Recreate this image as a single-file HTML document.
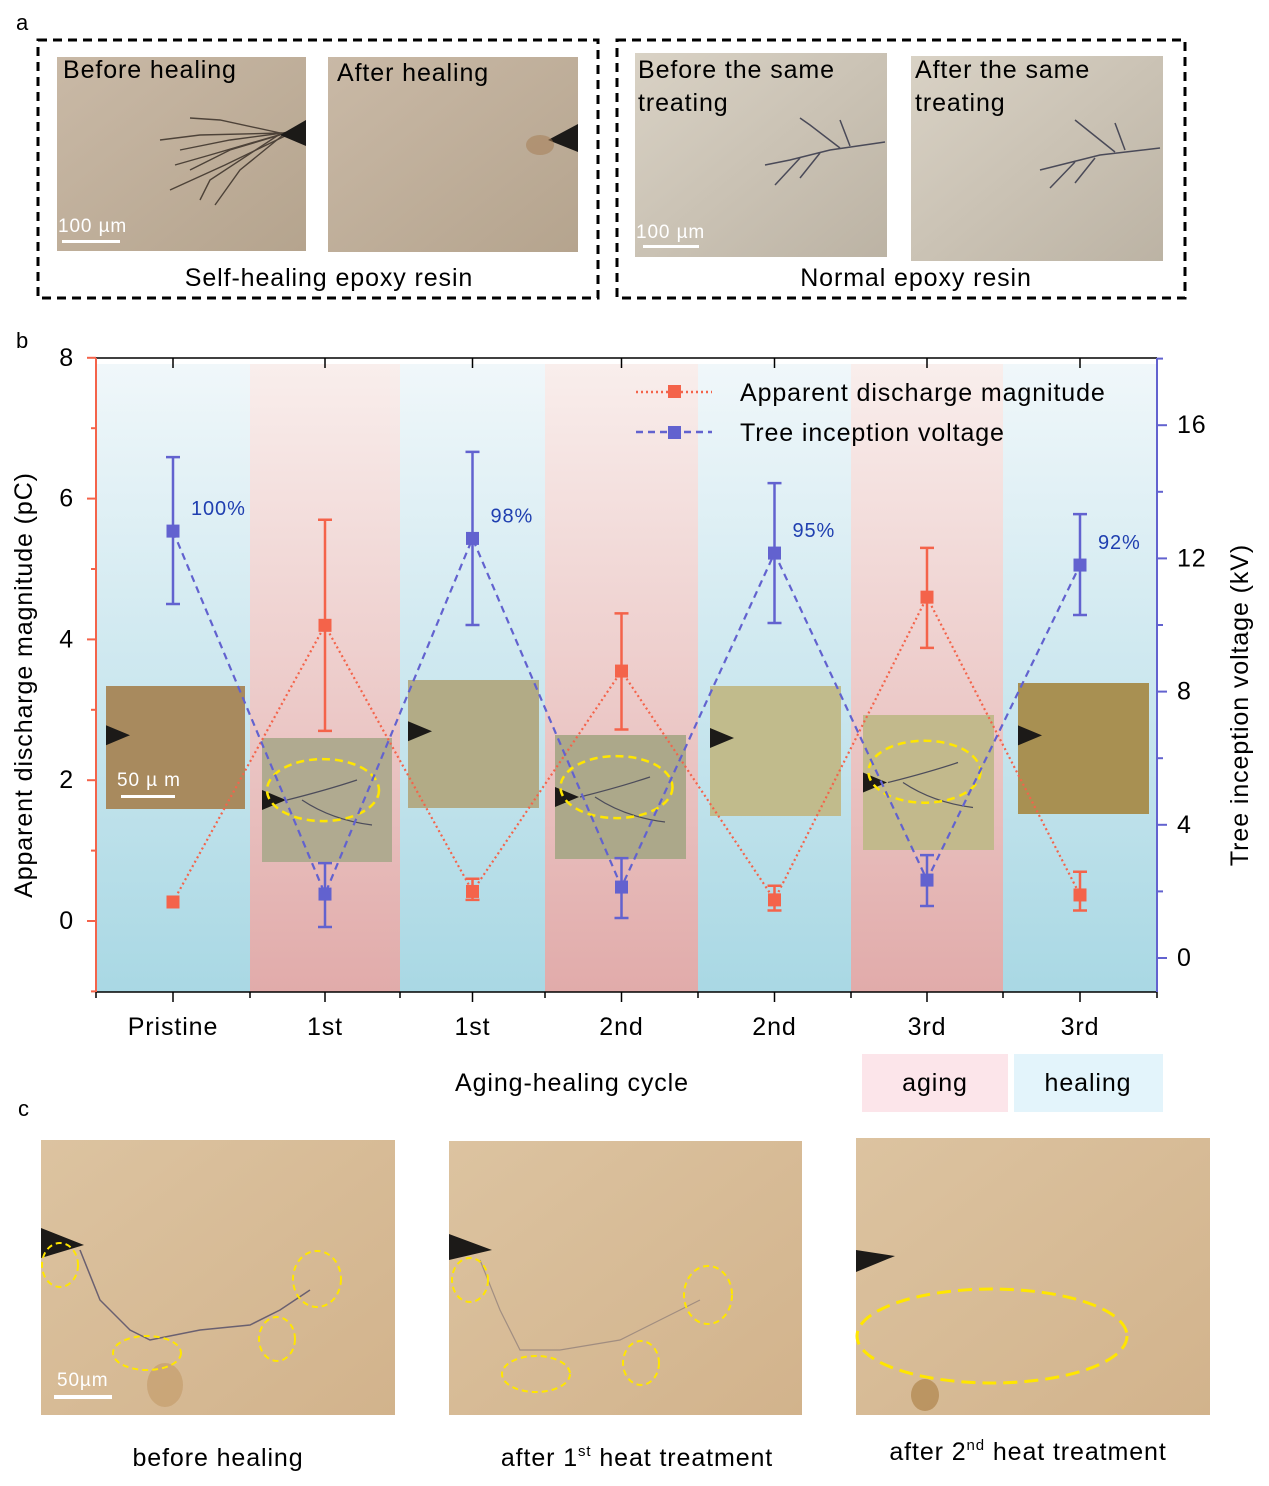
<!DOCTYPE html>
<html><head><meta charset="utf-8"><style>
html,body{margin:0;padding:0;background:#fff}
svg{display:block;font-family:"Liberation Sans",Arial,sans-serif}
svg text{letter-spacing:0.9px}
</style></head><body>
<svg id="fig" width="1269" height="1486" viewBox="0 0 1269 1486" xmlns="http://www.w3.org/2000/svg">
<defs>
<linearGradient id="gBlue" x1="0" y1="0" x2="0" y2="1"><stop offset="0" stop-color="#f0f7fa"/><stop offset="1" stop-color="#a9d8e4"/></linearGradient>
<linearGradient id="gPink" x1="0" y1="0" x2="0" y2="1"><stop offset="0" stop-color="#f9eeec"/><stop offset="1" stop-color="#e1abaa"/></linearGradient>
<linearGradient id="gPhotoA" x1="0" y1="0" x2="1" y2="1"><stop offset="0" stop-color="#c9b9a6"/><stop offset="1" stop-color="#b5a48e"/></linearGradient>
<linearGradient id="gPhotoB" x1="0" y1="0" x2="1" y2="1"><stop offset="0" stop-color="#d9d2c5"/><stop offset="1" stop-color="#bcb3a4"/></linearGradient>
<linearGradient id="gPhotoC" x1="0" y1="0" x2="1" y2="1"><stop offset="0" stop-color="#dcc3a0"/><stop offset="1" stop-color="#d2b38c"/></linearGradient>
</defs>

<!-- Panel a -->
<text x="16" y="30" font-size="22">a</text>
<rect x="38" y="40" width="560" height="258" fill="none" stroke="#000" stroke-width="3" stroke-dasharray="9,6"/>
<rect x="617" y="40" width="568" height="258" fill="none" stroke="#000" stroke-width="3" stroke-dasharray="9,6"/>
<g>
<rect x="57" y="57" width="249" height="194" fill="url(#gPhotoA)"/>
<g stroke="#3a3028" stroke-width="1.4" fill="none" opacity="0.85">
<path d="M290 132 L230 140 L180 150"/><path d="M285 134 L220 120 L190 118"/><path d="M285 136 L225 165 L170 190"/><path d="M280 134 L210 180 L200 200"/><path d="M282 133 L200 135 L160 140"/><path d="M283 135 L240 170 L215 205"/><path d="M280 135 L230 150 L190 170"/><path d="M282 134 L210 155 L175 165"/></g>
<polygon points="306,120 306,146 280,135" fill="#1c1a18"/>
<text x="63" y="78" font-size="25">Before healing</text>
<text x="58" y="232" font-size="19" fill="#fff">100 µm</text>
<rect x="62" y="240" width="58" height="3" fill="#fff"/>
</g>
<g>
<rect x="328" y="57" width="250" height="195" fill="url(#gPhotoA)"/>
<polygon points="578,124 578,152 548,140" fill="#1c1a18"/>
<ellipse cx="540" cy="145" rx="14" ry="10" fill="#a47a50" opacity="0.5"/>
<text x="337" y="81" font-size="25">After healing</text>
</g>
<text x="329" y="286" font-size="25" text-anchor="middle">Self-healing epoxy resin</text>
<g>
<rect x="635" y="53" width="252" height="204" fill="url(#gPhotoB)"/>
<g stroke="#4a4a58" stroke-width="1.5" fill="none"><path d="M885 142 L830 150 L790 160 L765 165"/><path d="M840 148 L810 125 L800 118"/><path d="M820 153 L800 178"/><path d="M850 146 L840 120"/><path d="M800 158 L775 185"/></g>
<text x="638" y="78" font-size="25">Before the same</text>
<text x="638" y="111" font-size="25">treating</text>
<text x="636" y="238" font-size="19" fill="#fff">100 µm</text>
<rect x="643" y="245" width="56" height="3" fill="#fff"/>
</g>
<g>
<rect x="911" y="56" width="252" height="205" fill="url(#gPhotoB)"/>
<g stroke="#4a4a58" stroke-width="1.5" fill="none"><path d="M1160 148 L1100 155 L1060 165 L1040 170"/><path d="M1115 152 L1085 128 L1075 120"/><path d="M1095 158 L1075 183"/><path d="M1125 150 L1115 123"/><path d="M1075 162 L1050 188"/></g>
<text x="915" y="78" font-size="25">After the same</text>
<text x="915" y="111" font-size="25">treating</text>
</g>
<text x="916" y="286" font-size="25" text-anchor="middle">Normal epoxy resin</text>

<!-- Panel b -->
<text x="16" y="348" font-size="22">b</text>
<g id="bg"></g>
<g id="insets"></g>
<g id="plot"></g>
<g id="axes"></g>

<g>
<g>
<line x1="636" y1="392" x2="712" y2="392" stroke="#f4634a" stroke-width="2.5" stroke-dasharray="2,3"/>
<rect x="668" y="385" width="13" height="13" fill="#f4634a"/>
<text x="740" y="401" font-size="25">Apparent discharge magnitude</text></g>
<g>
<line x1="636" y1="432" x2="712" y2="432" stroke="#6262cf" stroke-width="2.5" stroke-dasharray="7,5"/>
<rect x="668" y="426" width="13" height="13" fill="#6262cf"/>
<text x="740" y="441" font-size="25">Tree inception voltage</text></g>
</g>

<text x="572" y="1091" font-size="25" text-anchor="middle">Aging-healing cycle</text>
<text transform="translate(32,685) rotate(-90)" font-size="25" text-anchor="middle">Apparent discharge magnitude (pC)</text>
<text transform="translate(1248,705) rotate(-90)" font-size="25" text-anchor="middle">Tree inception voltage (kV)</text>
<g><rect x="862" y="1054" width="146" height="58" fill="#fce5ea"/><text x="935" y="1091" font-size="25" text-anchor="middle">aging</text></g>
<g><rect x="1014" y="1054" width="149" height="58" fill="#e3f4fb"/><text x="1088" y="1091" font-size="25" text-anchor="middle">healing</text></g>

<!-- Panel c -->
<text x="18" y="1116" font-size="22">c</text>
<g>
<rect x="41" y="1140" width="354" height="275" fill="url(#gPhotoC)"/>
<polygon points="41,1228 41,1258 84,1245" fill="#1c1a18"/>
<path d="M80 1250 L100 1300 L130 1330 L150 1340 L200 1330 L250 1325 L280 1310 L310 1290" stroke="#6a6070" stroke-width="1.5" fill="none"/>
<ellipse cx="165" cy="1385" rx="18" ry="22" fill="#b88a50" opacity="0.4"/>
<g fill="none" stroke="#ffe600" stroke-width="2" stroke-dasharray="6,4"><ellipse cx="60" cy="1265" rx="18" ry="22"/><ellipse cx="147" cy="1353" rx="34" ry="17"/><ellipse cx="277" cy="1339" rx="18" ry="22"/><ellipse cx="317" cy="1279" rx="24" ry="28"/></g>
<text x="57" y="1386" font-size="19" fill="#fff">50µm</text><rect x="54" y="1395" width="58" height="4" fill="#fff"/>
</g>
<g>
<rect x="449" y="1141" width="353" height="274" fill="url(#gPhotoC)"/>
<polygon points="449,1234 449,1260 492,1250" fill="#1c1a18"/>
<path d="M480 1260 L500 1310 L520 1350 L560 1350 L620 1340 L660 1320 L700 1300" stroke="#8a7a78" stroke-width="1.2" fill="none" opacity="0.7"/>
<g fill="none" stroke="#ffe600" stroke-width="2" stroke-dasharray="6,4"><ellipse cx="470" cy="1280" rx="18" ry="22"/><ellipse cx="536" cy="1374" rx="34" ry="18"/><ellipse cx="641" cy="1363" rx="18" ry="22"/><ellipse cx="708" cy="1295" rx="24" ry="29"/></g>
</g>
<g>
<rect x="856" y="1138" width="354" height="277" fill="url(#gPhotoC)"/>
<polygon points="856,1250 856,1272 895,1256" fill="#1c1a18"/>
<ellipse cx="925" cy="1395" rx="14" ry="16" fill="#a07030" opacity="0.5"/>
<ellipse cx="992" cy="1336" rx="135" ry="47" fill="none" stroke="#ffe600" stroke-width="3" stroke-dasharray="14,7"/>
</g>
<text x="218" y="1466" font-size="25" text-anchor="middle">before healing</text>
<text x="637" y="1466" font-size="25" text-anchor="middle">after 1<tspan font-size="15" dy="-10">st</tspan><tspan dy="10"> heat treatment</tspan></text>
<text x="1028" y="1460" font-size="25" text-anchor="middle">after 2<tspan font-size="15" dy="-10">nd</tspan><tspan dy="10"> heat treatment</tspan></text>
</svg>
<script>
const categories=["Pristine","1st","1st","2nd","2nd","3rd","3rd"];
const bandType=["healing","aging","healing","aging","healing","aging","healing"];
const dischargeVal=[0.27,4.2,0.42,3.55,0.3,4.6,0.37];
const dischargeLo=[0.27,2.7,0.3,2.72,0.15,3.88,0.15];
const dischargeHi=[0.27,5.7,0.6,4.37,0.5,5.3,0.7];
const voltageVal=[12.82,1.92,12.6,2.13,12.16,2.34,11.8];
const voltageLo=[10.63,0.93,10.0,1.2,10.06,1.56,10.3];
const voltageHi=[15.04,2.85,15.2,3.0,14.26,3.09,13.33];
const percentLabels=["100%","","98%","","95%","","92%"];
const leftTicks=[0,2,4,6,8];
const rightTicks=[0,4,8,12,16];

const NS="http://www.w3.org/2000/svg";
const X0=96,X1=1157,YT=358,YB=992;
const bounds=[96,250,400,545,698,851,1003,1157];
function xc(i){return (bounds[i]+bounds[i+1])/2;}
function yL(v){return 921-(v)*70.4;}
function yR(v){return 958-v*33.3;}
function mk(tag,attrs,parent){const e=document.createElementNS(NS,tag);for(const k in attrs)e.setAttribute(k,attrs[k]);parent.appendChild(e);return e;}
const bg=document.getElementById('bg'),plot=document.getElementById('plot'),axes=document.getElementById('axes'),ins=document.getElementById('insets');

categories.forEach((c,i)=>{
  const r=mk('rect',{x:bounds[i],y:YT+6,width:bounds[i+1]-bounds[i],height:YB-YT-6,fill:bandType[i]==='healing'?'url(#gBlue)':'url(#gPink)'},bg);
  
  
});

const insetBoxes=[[106,686,139,123,'#a88a5e'],[262,738,130,124,'#b0aa90'],[408,680,131,128,'#b2ab86'],[555,735,131,124,'#aca88a'],[710,686,131,130,'#c1bb8c'],[863,715,131,135,'#c2b98c'],[1018,683,131,131,'#a89052']];
insetBoxes.forEach((b,i)=>{
  const g=mk('g',{},ins);
  
  
  mk('rect',{x:b[0],y:b[1],width:b[2],height:b[3],fill:b[4]},g);
  const ty=b[1]+b[3]*(i%2?0.5:0.4);
  mk('polygon',{points:`${b[0]},${ty-10} ${b[0]},${ty+10} ${b[0]+24},${ty}`,fill:'#1c1a18'},g);
  if(i%2){
    mk('path',{d:`M${b[0]+25} ${ty} q40 -10 70 -20 M${b[0]+40} ${ty} q30 20 70 25`,stroke:'#4c4c5a','stroke-width':1.2,fill:'none'},g);
    mk('ellipse',{cx:b[0]+b[2]/2-4,cy:b[1]+b[3]*0.42,rx:56,ry:31,fill:'none',stroke:'#ffe600','stroke-width':2.5,'stroke-dasharray':'8,5'},g);
  }
});
{const t=mk('text',{x:117,y:786,'font-size':19,fill:'#fff'},ins);t.textContent='50 µ m';mk('rect',{x:121,y:795,width:54,height:3,fill:'#fff'},ins);}

function series(vals,lo,hi,yf,color,dash,name){
  let d='';vals.forEach((v,i)=>{d+=(i?'L':'M')+xc(i)+' '+yf(v);});
  const p=mk('path',{d:d,stroke:color,'stroke-width':2.2,fill:'none','stroke-dasharray':dash},plot);
  
  
  vals.forEach((v,i)=>{
    const x=xc(i);
    if(hi[i]!==lo[i]){
      const e=mk('path',{d:`M${x} ${yf(lo[i])}V${yf(hi[i])}M${x-7} ${yf(lo[i])}H${x+7}M${x-7} ${yf(hi[i])}H${x+7}`,stroke:color,'stroke-width':2.5,fill:'none'},plot);
      
      
    }
    const m=mk('rect',{x:x-6.5,y:yf(v)-6.5,width:13,height:13,fill:color},plot);
    
    
  });
}
series(dischargeVal,dischargeLo,dischargeHi,yL,'#f4634a','2,3','discharge');
series(voltageVal,voltageLo,voltageHi,yR,'#6262cf','7,5','voltage');
percentLabels.forEach((p,i)=>{if(!p)return;
  const t=mk('text',{x:xc(i)+18,y:yR(voltageVal[i])-16,'font-size':20,fill:'#1f3fb0'},plot);t.textContent=p;
  
  
});

mk('line',{x1:X0,y1:YT,x2:X1,y2:YT,stroke:'#000','stroke-width':1.5},axes);
mk('line',{x1:X0,y1:YB,x2:X1,y2:YB,stroke:'#000','stroke-width':1.5},axes);
mk('line',{x1:X0,y1:YT,x2:X0,y2:YB,stroke:'#f4634a','stroke-width':2},axes);
mk('line',{x1:X1,y1:YT,x2:X1,y2:YB,stroke:'#6262cf','stroke-width':2},axes);
for(let v=-1;v<=8;v++){const y=yL(v);mk('line',{x1:X0-(v%2===0?9:5),y1:y,x2:X0,y2:y,stroke:'#f4634a','stroke-width':2},axes);}
leftTicks.forEach(v=>{const t=mk('text',{x:74,y:yL(v)+8,'font-size':25,'text-anchor':'end'},axes);t.textContent=v;
  
  });
for(let v=0;v<=18;v+=2){const y=yR(v);mk('line',{x1:X1,y1:y,x2:X1+(v%4===0?10:6),y2:y,stroke:'#6262cf','stroke-width':2},axes);}
rightTicks.forEach(v=>{const t=mk('text',{x:1177,y:yR(v)+8,'font-size':25},axes);t.textContent=v;
  
  });
bounds.forEach(b=>{mk('line',{x1:b,y1:YB,x2:b,y2:YB+6,stroke:'#000','stroke-width':1.5},axes);});
categories.forEach((c,i)=>{const x=xc(i);
  mk('line',{x1:x,y1:YB,x2:x,y2:YB+10,stroke:'#000','stroke-width':1.5},axes);
  mk('line',{x1:x,y1:YT,x2:x,y2:YT+10,stroke:'#000','stroke-width':1.5},axes);
  const t=mk('text',{x:x,y:1035,'font-size':25,'text-anchor':'middle'},axes);t.textContent=c;
  
  });
</script>
</body></html>
